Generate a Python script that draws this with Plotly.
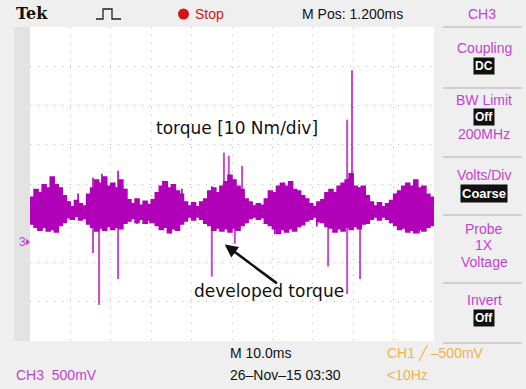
import plotly.graph_objects as go

# ---------------- data (read from the screen capture) ----------------
# CH3 envelope sampled every 1 ms (10 ms/div, 10 div), volts relative to CH3 ground
time_ms = list(range(0, 101))
upper_v = [0.58, 0.68, 0.64, 0.74, 0.70, 0.84, 0.74, 0.70, 0.60, 0.52,
           0.46, 0.54, 0.50, 0.47, 0.62, 0.70, 0.80, 0.76, 0.84, 0.72,
           0.76, 0.70, 0.80, 0.68, 0.55, 0.50, 0.56, 0.48, 0.53, 0.49,
           0.55, 0.64, 0.72, 0.78, 0.70, 0.74, 0.66, 0.62, 0.52, 0.47,
           0.51, 0.46, 0.52, 0.56, 0.66, 0.70, 0.64, 0.72, 0.78, 0.86,
           0.80, 0.72, 0.68, 0.56, 0.52, 0.47, 0.50, 0.48, 0.56, 0.66,
           0.64, 0.72, 0.76, 0.72, 0.78, 0.68, 0.66, 0.60, 0.56, 0.50,
           0.46, 0.52, 0.55, 0.64, 0.68, 0.64, 0.72, 0.76, 0.80, 0.88,
           0.72, 0.70, 0.72, 0.60, 0.52, 0.47, 0.51, 0.46, 0.50, 0.54,
           0.62, 0.66, 0.72, 0.76, 0.72, 0.80, 0.70, 0.72, 0.62, 0.58, 0.54]
lower_v = [0.24, 0.20, 0.16, 0.20, 0.15, 0.17, 0.14, 0.22, 0.26, 0.32,
           0.30, 0.34, 0.29, 0.31, 0.24, 0.20, 0.15, 0.19, 0.16, 0.21,
           0.17, 0.20, 0.18, 0.25, 0.28, 0.31, 0.26, 0.30, 0.25, 0.29,
           0.26, 0.22, 0.17, 0.20, 0.13, 0.18, 0.16, 0.24, 0.28, 0.33,
           0.29, 0.33, 0.30, 0.25, 0.22, 0.16, 0.19, 0.15, 0.18, 0.14,
           0.19, 0.16, 0.22, 0.26, 0.31, 0.33, 0.30, 0.32, 0.25, 0.22,
           0.18, 0.12, 0.17, 0.14, 0.18, 0.15, 0.21, 0.23, 0.28, 0.30,
           0.33, 0.27, 0.26, 0.21, 0.19, 0.14, 0.18, 0.15, 0.20, 0.17,
           0.21, 0.18, 0.24, 0.25, 0.30, 0.33, 0.29, 0.33, 0.30, 0.26,
           0.22, 0.17, 0.19, 0.14, 0.16, 0.13, 0.17, 0.15, 0.20, 0.22, 0.25]

# thin streaks sticking out of the noise band (time in ms, tip in volts)
streak_t = [2.0, 3.2, 5.2, 9.4, 11.9, 15.6, 17.8, 21.8, 23.5, 26.5,
            26.5, 29.7, 32.9, 34.7, 37.6, 45.0, 60.6, 62.4, 64.4, 69.8,
            71.0, 79.0, 82.2, 90.8, 93.8, 96.3, 96.5, 99.5]
streak_v = [0.15, 0.72, 0.83, 0.53, 0.63, 0.83, 0.88, 0.92, 0.69, 0.56,
            0.24, 0.25, 0.79, 0.12, 0.69, 0.72, 0.11, 0.75, 0.72, 0.51,
            0.21, 0.83, 0.72, 0.63, 0.75, 0.12, 0.69, 0.56]

# isolated spikes (time in ms, peak in volts)
spike_t = [15.6, 17.1, 21.8, 45.0, 48.0, 49.2, 50.7, 52.5,
           73.8, 78.5, 78.5, 79.7, 81.7]
spike_v = [-0.13, -0.79, -0.46, -0.43, 1.15, 1.11, -0.01, 0.98,
           -0.30, -0.65, 1.57, 2.20, -0.46]
trace_center_v = 0.40

# ---------------- figure ----------------
W, H = 526, 389
L, R, T, B = 30, 434, 27, 341


def PX(px):
    return (px - L) / (R - L)


def PY(py):
    return (B - py) / (B - T)


MAG = "#b000b8"
MAG_LIGHT = "#c54bcc"
LABEL_MAG = "#c342d0"
ORANGE = "#f2b24a"
UIFONT = "Liberation Sans, Arial, sans-serif"

fig = go.Figure()


def segs(ts, vs):
    xs, ys = [], []
    for t, v in zip(ts, vs):
        xs += [t, t, None]
        ys += [trace_center_v, v, None]
    return xs, ys


# spikes
sx, sy = segs(spike_t, spike_v)
fig.add_trace(go.Scatter(x=sx, y=sy, mode="lines",
                         line=dict(color=MAG_LIGHT, width=2),
                         hoverinfo="skip", showlegend=False))

# noise band
fig.add_trace(go.Scatter(x=time_ms, y=lower_v, mode="lines",
                         line=dict(color=MAG, width=1.5, shape="hv"),
                         hoverinfo="skip", showlegend=False))
fig.add_trace(go.Scatter(x=time_ms, y=upper_v, mode="lines", fill="tonexty",
                         fillcolor=MAG, line=dict(color=MAG, width=1.5, shape="hv"),
                         hoverinfo="skip", showlegend=False))

# streaks
kx, ky = segs(streak_t, streak_v)
fig.add_trace(go.Scatter(x=kx, y=ky, mode="lines",
                         line=dict(color=MAG, width=1.6),
                         hoverinfo="skip", showlegend=False))

grid = dict(showgrid=True, gridcolor="#b8b8b8", gridwidth=1, griddash="1px,7px",
            zeroline=False, showticklabels=False, ticks="", showline=False,
            fixedrange=True)
fig.update_xaxes(range=[0, 100], dtick=10, tick0=0, **grid)
fig.update_yaxes(range=[-1.25, 2.75], dtick=0.5, tick0=-1.25, **grid)

shapes = []
shapes.append(dict(type="rect", xref="paper", yref="paper",
                   x0=PX(14), x1=PX(30), y0=PY(341), y1=PY(27),
                   fillcolor="#e3e3e3", line=dict(width=0), layer="below"))
for yy in [27, 88, 157, 215, 283, 343]:
    shapes.append(dict(type="line", xref="paper", yref="paper",
                       x0=PX(443), x1=PX(522), y0=PY(yy), y1=PY(yy),
                       line=dict(color="#c6c6c6", width=1.5)))
shapes.append(dict(type="circle", xref="paper", yref="paper",
                   x0=PX(178), x1=PX(189), y0=PY(19.5), y1=PY(8.5),
                   fillcolor="#d41414", line=dict(width=0)))
pulse = "M {x0},{y0} L {x1},{y0} L {x1},{y1} L {x2},{y1} L {x2},{y0} L {x3},{y0}".format(
    x0=PX(96), x1=PX(103), x2=PX(112), x3=PX(121), y0=PY(19), y1=PY(9))
shapes.append(dict(type="path", xref="paper", yref="paper", path=pulse,
                   line=dict(color="#222222", width=1.3)))
shapes.append(dict(type="path", xref="paper", yref="paper",
                   path="M {a},{b} L {c},{d} L {a},{e} Z".format(
                       a=PX(26), b=PY(238.5), c=PX(30), d=PY(242), e=PY(245.5)),
                   fillcolor=LABEL_MAG, line=dict(width=0)))

ann = []


def txt(x, y, s, color="#111111", size=13, family=UIFONT, anchor="left", **kw):
    ann.append(dict(x=PX(x), y=PY(y), xref="paper", yref="paper", text=s,
                    showarrow=False, xanchor=anchor, yanchor="middle",
                    font=dict(color=color, size=size, family=family), **kw))


def box(x, y, s, size=12):
    ann.append(dict(x=PX(x), y=PY(y), xref="paper", yref="paper", text="<b>" + s + "</b>",
                    showarrow=False, xanchor="center", yanchor="middle",
                    bgcolor="#111111", borderpad=1,
                    font=dict(color="#ffffff", size=size, family=UIFONT)))


# header
txt(14, 13, "<b>Tek</b>", size=16, family="DejaVu Serif, serif")
txt(193, 14, "Stop", color="#d41414", size=14)
txt(300, 14, "M Pos: 1.200ms", size=14)
txt(482, 14, "CH3", color=LABEL_MAG, size=14, anchor="center")

# right panel
cx = 484
txt(cx, 48, "Coupling", color=LABEL_MAG, size=14, anchor="center")
box(cx, 66, "DC")
txt(cx, 100, "BW Limit", color=LABEL_MAG, size=14, anchor="center")
box(cx, 117, "Off")
txt(cx, 134, "200MHz", color=LABEL_MAG, size=14, anchor="center")
txt(cx, 175, "Volts/Div", color=LABEL_MAG, size=14, anchor="center")
box(cx, 193, "Coarse", size=13)
txt(cx, 229, "Probe", color=LABEL_MAG, size=14, anchor="center")
txt(cx, 245, "1X", color=LABEL_MAG, size=14, anchor="center")
txt(cx, 262, "Voltage", color=LABEL_MAG, size=14, anchor="center")
txt(cx, 300, "Invert", color=LABEL_MAG, size=14, anchor="center")
box(cx, 318, "Off")

# footer
txt(228, 353, "M 10.0ms", size=14)
txt(228, 375, "26\u2013Nov\u201315 03:30", size=14)
txt(385, 353, "CH1 \u2571 \u2013500mV", color=ORANGE, size=14)
txt(385, 375, "&lt;10Hz", color=ORANGE, size=14)
txt(14, 375, "CH3  500mV", color=LABEL_MAG, size=14)
txt(17, 242, "3", color=LABEL_MAG, size=12)

# annotations on the trace
txt(154, 128, "torque [10 Nm/div]", size=17, family="DejaVu Sans, Verdana, sans-serif")
txt(192, 291, "developed torque", size=17, family="DejaVu Sans, Verdana, sans-serif")
ann.append(dict(x=48.2, y=-0.02, xref="x", yref="y", ax=61.5, ay=-0.53,
                axref="x", ayref="y", showarrow=True, arrowhead=2, arrowsize=1,
                arrowwidth=2.6, arrowcolor="#111111", text=""))

fig.update_layout(width=W, height=H, margin=dict(l=L, r=W - R, t=T, b=H - B),
                  paper_bgcolor="#efefef", plot_bgcolor="#ffffff",
                  shapes=shapes, annotations=ann, showlegend=False)

fig.write_html("out.html", config={"displayModeBar": False},
               post_script="document.body.style.margin='0';"
                           "document.body.style.background='#efefef';")
